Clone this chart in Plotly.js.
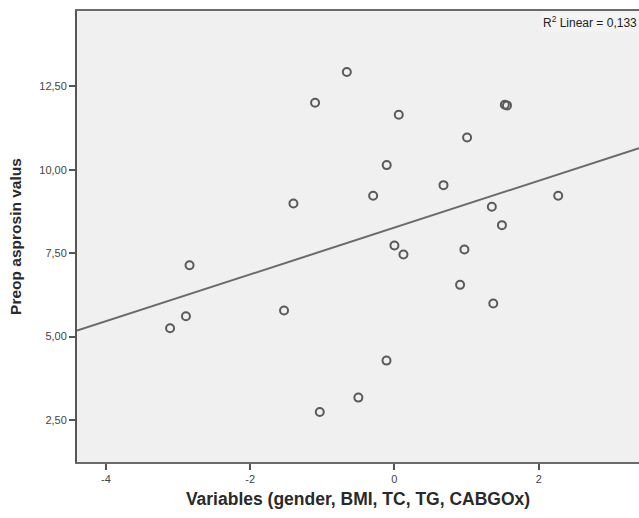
<!DOCTYPE html>
<html>
<head>
<meta charset="utf-8">
<script src="https://cdn.plot.ly/plotly-3.0.1.min.js"></script>
<style>html,body{margin:0;padding:0;background:#fff;}#chart{width:639px;height:518px;}</style>
</head>
<body>
<div id="chart"></div>
<script>
// Factor score (gender, BMI, TC, TG, CABGOx)
var xValues = [-0.66, -1.10, 0.06, -0.107, -0.295, -1.40, 0.00, 0.125, -2.84, -2.89, -3.11, -1.53, -0.11, -0.50, -1.035, 1.53, 1.56, 1.007, 0.68, 2.27, 1.35, 1.49, 0.97, 0.91, 1.37];
// Preop asprosin values
var yValues = [12.93, 12.01, 11.65, 10.14, 9.22, 8.99, 7.73, 7.46, 7.14, 5.61, 5.25, 5.78, 4.28, 3.17, 2.74, 11.95, 11.93, 10.97, 9.54, 9.22, 8.89, 8.34, 7.61, 6.55, 5.99];

var xTickVals = [-4, -2, 0, 2];
var xTickText = ['-4', '-2', '0', '2'];
var yTickVals = [2.5, 5, 7.5, 10, 12.5];
var yTickText = ['2,50', '5,00', '7,50', '10,00', '12,50'];
var xRange = [-4.40, 3.39];
var yRange = [1.24, 14.76];
var r2Label = 'R<sup>2</sup> Linear = 0,133';

// least-squares fit computed from the data
var n = xValues.length;
var mx = xValues.reduce(function(a,b){return a+b;},0)/n;
var my = yValues.reduce(function(a,b){return a+b;},0)/n;
var sxy = 0, sxx = 0;
for (var i = 0; i < n; i++) { sxy += (xValues[i]-mx)*(yValues[i]-my); sxx += (xValues[i]-mx)*(xValues[i]-mx); }
var slope = sxy/sxx, intercept = my - slope*mx;
var fitX = [xRange[0], xRange[1]];
var fitY = fitX.map(function(v){return intercept + slope*v;});

var traces = [
  {x: fitX, y: fitY, type: 'scatter', mode: 'lines', line: {color: '#6a6a6a', width: 2}, hoverinfo: 'skip'},
  {x: xValues, y: yValues, type: 'scatter', mode: 'markers',
   marker: {symbol: 'circle-open', size: 8, color: '#5a5a5a', line: {width: 2, color: '#5a5a5a'}}}
];

var axisFont = {family: 'Liberation Sans, Arial, sans-serif', size: 11, color: '#444'};
var layout = {
  width: 639, height: 518,
  margin: {l: 77, r: 0, t: 11, b: 56},
  paper_bgcolor: '#ffffff',
  plot_bgcolor: '#f0f0f0',
  showlegend: false,
  xaxis: {
    range: xRange, tickvals: xTickVals, ticktext: xTickText,
    showgrid: false, zeroline: false,
    showline: true, linecolor: '#6a6a6a', linewidth: 2, mirror: true,
    ticks: 'outside', ticklen: 6, tickwidth: 2, tickcolor: '#555',
    tickfont: axisFont,
    title: {text: 'Variables (gender, BMI, TC, TG, CABGOx)', standoff: 9,
            font: {family: 'Liberation Sans, Arial, sans-serif', size: 17.5, color: '#2a2a2a', weight: 'bold'}}
  },
  yaxis: {
    range: yRange, tickvals: yTickVals, ticktext: yTickText,
    showgrid: false, zeroline: false,
    showline: true, linecolor: '#555', linewidth: 2, mirror: true,
    ticks: 'outside', ticklen: 6, tickwidth: 2, tickcolor: '#555',
    tickfont: axisFont,
    title: {text: 'Preop asprosin valus', standoff: 14,
            font: {family: 'Liberation Sans, Arial, sans-serif', size: 15.5, color: '#2a2a2a', weight: 'bold'}}
  },
  annotations: [{
    xref: 'paper', yref: 'paper', x: 1, y: 0.997, xanchor: 'right', yanchor: 'top',
    text: r2Label, showarrow: false, bgcolor: '#f4f4f4',
    font: {family: 'Liberation Sans, Arial, sans-serif', size: 12, color: '#222'}
  }]
};

Plotly.newPlot('chart', traces, layout, {displayModeBar: false, staticPlot: true});
</script>
</body>
</html>
